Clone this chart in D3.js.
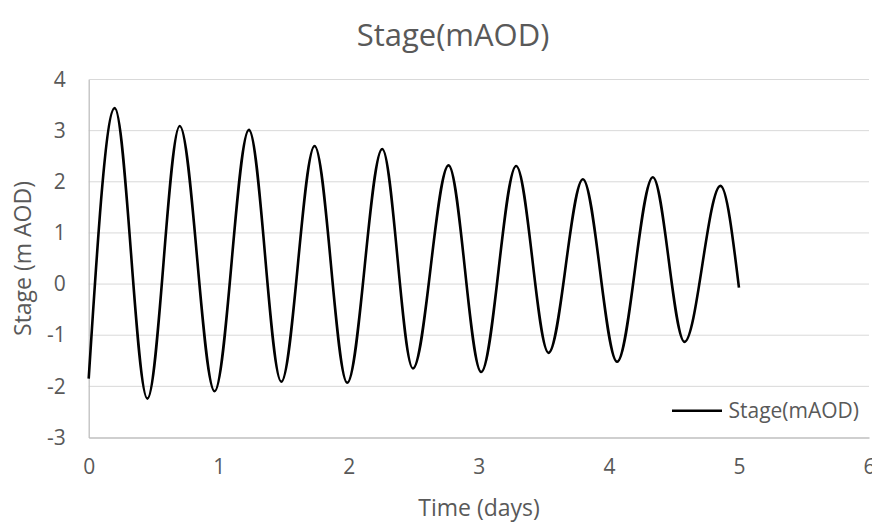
<!DOCTYPE html>
<html>
<head>
<meta charset="utf-8">
<script src="https://cdn.jsdelivr.net/npm/d3@7"></script>
<style>
  body { margin: 0; background: #fff; }
  text { font-family: 'Open Sans', sans-serif; fill: #595959; }
</style>
</head>
<body>
<div id="chart"></div>
<script>
// time (days) of each turning point, with start and end
const days = [0, 0.2, 0.451, 0.70, 0.968, 1.232, 1.481, 1.737, 1.988, 2.257,
  2.493, 2.767, 3.018, 3.287, 3.536, 3.80, 4.063, 4.338, 4.581, 4.858, 5.0]
// stage (m AOD) at those times
const stage = [-1.85, 3.44, -2.24, 3.09, -2.095, 3.015, -1.91, 2.70, -1.93, 2.64,
  -1.65, 2.32, -1.72, 2.31, -1.345, 2.05, -1.52, 2.09, -1.13, 1.92, -0.07]

const xTicks = [0, 1, 2, 3, 4, 5, 6]
const yTicks = [-3, -2, -1, 0, 1, 2, 3, 4]

const data = days.map((d, i) => ({ t: d, v: stage[i] }))

const W = 872, H = 522
const margin = { top: 79.5, right: 3, bottom: 84.5, left: 88.7 }
const width = W - margin.left - margin.right
const height = H - margin.top - margin.bottom

const svg = d3.select('#chart')
  .append('svg')
  .attr('width', W)
  .attr('height', H)

const g = svg.append('g')
  .attr('transform', 'translate(' + margin.left + ',' + margin.top + ')')

const x = d3.scaleLinear().domain([0, 6]).range([0, width])
const y = d3.scaleLinear().domain([-3, 4]).range([height, 0])

// plain labels with a hyphen minus, like the original
const fmt = d => String(d)

// horizontal gridlines
g.selectAll('.grid')
  .data(yTicks.filter(d => d !== -3))
  .enter()
  .append('line')
  .attr('x1', 0)
  .attr('x2', width)
  .attr('y1', d => y(d))
  .attr('y2', d => y(d))
  .attr('stroke', '#d9d9d9')
  .attr('stroke-width', 1)

// axes
const xAxis = g.append('g')
  .attr('transform', 'translate(0,' + height + ')')
  .call(d3.axisBottom(x).tickValues(xTicks).tickFormat(fmt).tickSize(0).tickPadding(22))
xAxis.select('.domain').attr('stroke', '#bfbfbf').attr('stroke-width', 1.3)
xAxis.selectAll('text').style('font-size', '21px').attr('fill', '#595959')

const yAxis = g.append('g')
  .call(d3.axisLeft(y).tickValues(yTicks).tickFormat(fmt).tickSize(0).tickPadding(23))
yAxis.select('.domain').attr('stroke', '#bfbfbf').attr('stroke-width', 1.3)
yAxis.selectAll('text').style('font-size', '21px').attr('fill', '#595959')

// the stage line
const line = d3.line()
  .x(d => x(d.t))
  .y(d => y(d.v))
  .curve(d3.curveMonotoneX)

g.append('path')
  .datum(data)
  .attr('fill', 'none')
  .attr('stroke', '#000')
  .attr('stroke-width', 2.6)
  .attr('d', line)

// titles
svg.append('text')
  .attr('x', 453)
  .attr('y', 46)
  .attr('text-anchor', 'middle')
  .style('font-size', '31px')
  .text('Stage(mAOD)')

svg.append('text')
  .attr('x', 479)
  .attr('y', 516)
  .attr('text-anchor', 'middle')
  .style('font-size', '23px')
  .text('Time (days)')

svg.append('text')
  .attr('transform', 'translate(31,' + (margin.top + height / 2) + ') rotate(-90)')
  .attr('text-anchor', 'middle')
  .style('font-size', '23px')
  .text('Stage (m AOD)')

// legend
const legend = svg.append('g')
legend.append('line')
  .attr('x1', 672)
  .attr('x2', 722)
  .attr('y1', 410.7)
  .attr('y2', 410.7)
  .attr('stroke', '#000')
  .attr('stroke-width', 2.6)
legend.append('text')
  .attr('x', 728.5)
  .attr('y', 418)
  .style('font-size', '21px')
  .text('Stage(mAOD)')
</script>
</body>
</html>
